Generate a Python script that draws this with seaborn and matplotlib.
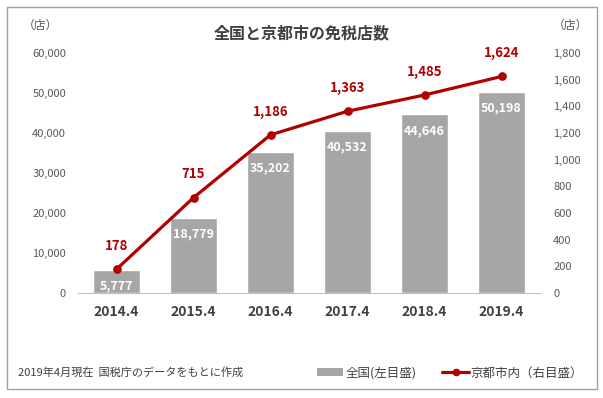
import matplotlib
matplotlib.use('Agg')
import matplotlib.pyplot as plt
import seaborn as sns
import pandas as pd
from matplotlib.patches import Rectangle, Patch
from matplotlib.lines import Line2D

years = ['2014.4', '2015.4', '2016.4', '2017.4', '2018.4', '2019.4']
national = [5777, 18779, 35202, 40532, 44646, 50198]
kyoto = [178, 715, 1186, 1363, 1485, 1624]

left_ticks = [0, 10000, 20000, 30000, 40000, 50000, 60000]
right_ticks = [0, 200, 400, 600, 800, 1000, 1200, 1400, 1600, 1800]

bar_color = '#A6A6A6'
line_color = '#B00000'
tick_color = '#595959'

sns.set_style('white')
plt.rcParams['font.family'] = ['Noto Sans CJK JP', 'DejaVu Sans']

df = pd.DataFrame({'year': years, 'national': national, 'kyoto': kyoto})

fig = plt.figure(figsize=(6.03, 3.98), dpi=100)
# plot area: x 78..540 px, y 53..293 px
ax = fig.add_axes([78 / 603, 1 - 293 / 398, 462 / 603, 240 / 398])

sns.barplot(data=df, x='year', y='national', color=bar_color, width=0.61,
            saturation=1, ax=ax)
ax.set_ylim(0, 60000)
ax.set_yticks(left_ticks)
ax.set_yticklabels([f'{v:,}' for v in left_ticks])
ax.set_xlabel('')
ax.set_ylabel('')

for i, v in enumerate(national):
    ax.text(i, v - 4000, f'{v:,}', ha='center', va='center', color='white',
            fontsize=9, fontweight='bold')

ax2 = ax.twinx()
sns.pointplot(data=df, x='year', y='kyoto', color=line_color, ax=ax2,
              markers='o', markersize=4.5, linewidth=2.3)
ax2.set_ylim(0, 1800)
ax2.set_yticks(right_ticks)
ax2.set_yticklabels([f'{v:,}' for v in right_ticks])
ax2.set_ylabel('')
ax2.set_xlabel('')

for i, v in enumerate(kyoto):
    ax2.text(i, v + 175, f'{v:,}', ha='center', va='center', color=line_color,
             fontsize=9.5, fontweight='bold')

for a in (ax, ax2):
    for s in a.spines.values():
        s.set_visible(False)
    a.tick_params(axis='y', length=0, labelsize=8, labelcolor=tick_color)
    a.grid(False)
ax.tick_params(axis='y', pad=8.6)
ax2.tick_params(axis='y', pad=9.4)

ax.spines['bottom'].set_visible(True)
ax.spines['bottom'].set_color('#BFBFBF')
ax.set_xlim(-0.5, 5.5)
ax.set_xticks([i - 0.5 for i in range(7)], minor=True)
ax.tick_params(axis='x', which='minor', length=4, color='#BFBFBF', direction='out')
ax.tick_params(axis='x', which='major', length=0, labelsize=10, labelcolor='#404040', pad=9)
for lbl in ax.get_xticklabels():
    lbl.set_fontweight('bold')

fig.text(302 / 603, 1 - 33 / 398, '全国と京都市の免税店数', ha='center', va='center',
         fontsize=11.5, fontweight='bold', color='#404040')
fig.text(40 / 603, 1 - 25 / 398, '（店）', ha='center', va='center', fontsize=8.5, color=tick_color)
fig.text(570 / 603, 1 - 25 / 398, '（店）', ha='center', va='center', fontsize=8.5, color=tick_color)
fig.text(18 / 603, 1 - 372 / 398, '2019年4月現在  国税庁のデータをもとに作成', ha='left', va='center',
         fontsize=8, color='#404040')

handles = [Patch(facecolor=bar_color, edgecolor='none'),
           Line2D([0], [0], color=line_color, lw=2.3, marker='o', markersize=4.5)]
fig.legend(handles, ['全国(左目盛)', '京都市内（右目盛）'], loc='center left',
           bbox_to_anchor=(317 / 603, 1 - 373 / 398), ncol=2, frameon=False, fontsize=9,
           handlelength=2.1, handleheight=0.55, handletextpad=0.15, columnspacing=2.1,
           borderpad=0, borderaxespad=0, labelcolor='#404040')

fig.patches.append(Rectangle((7 / 603, 1 - 389 / 398), 590 / 603, 382 / 398,
                             transform=fig.transFigure, fill=False,
                             edgecolor='#A0A0A0', lw=1))

fig.savefig('out.png', dpi=100)
